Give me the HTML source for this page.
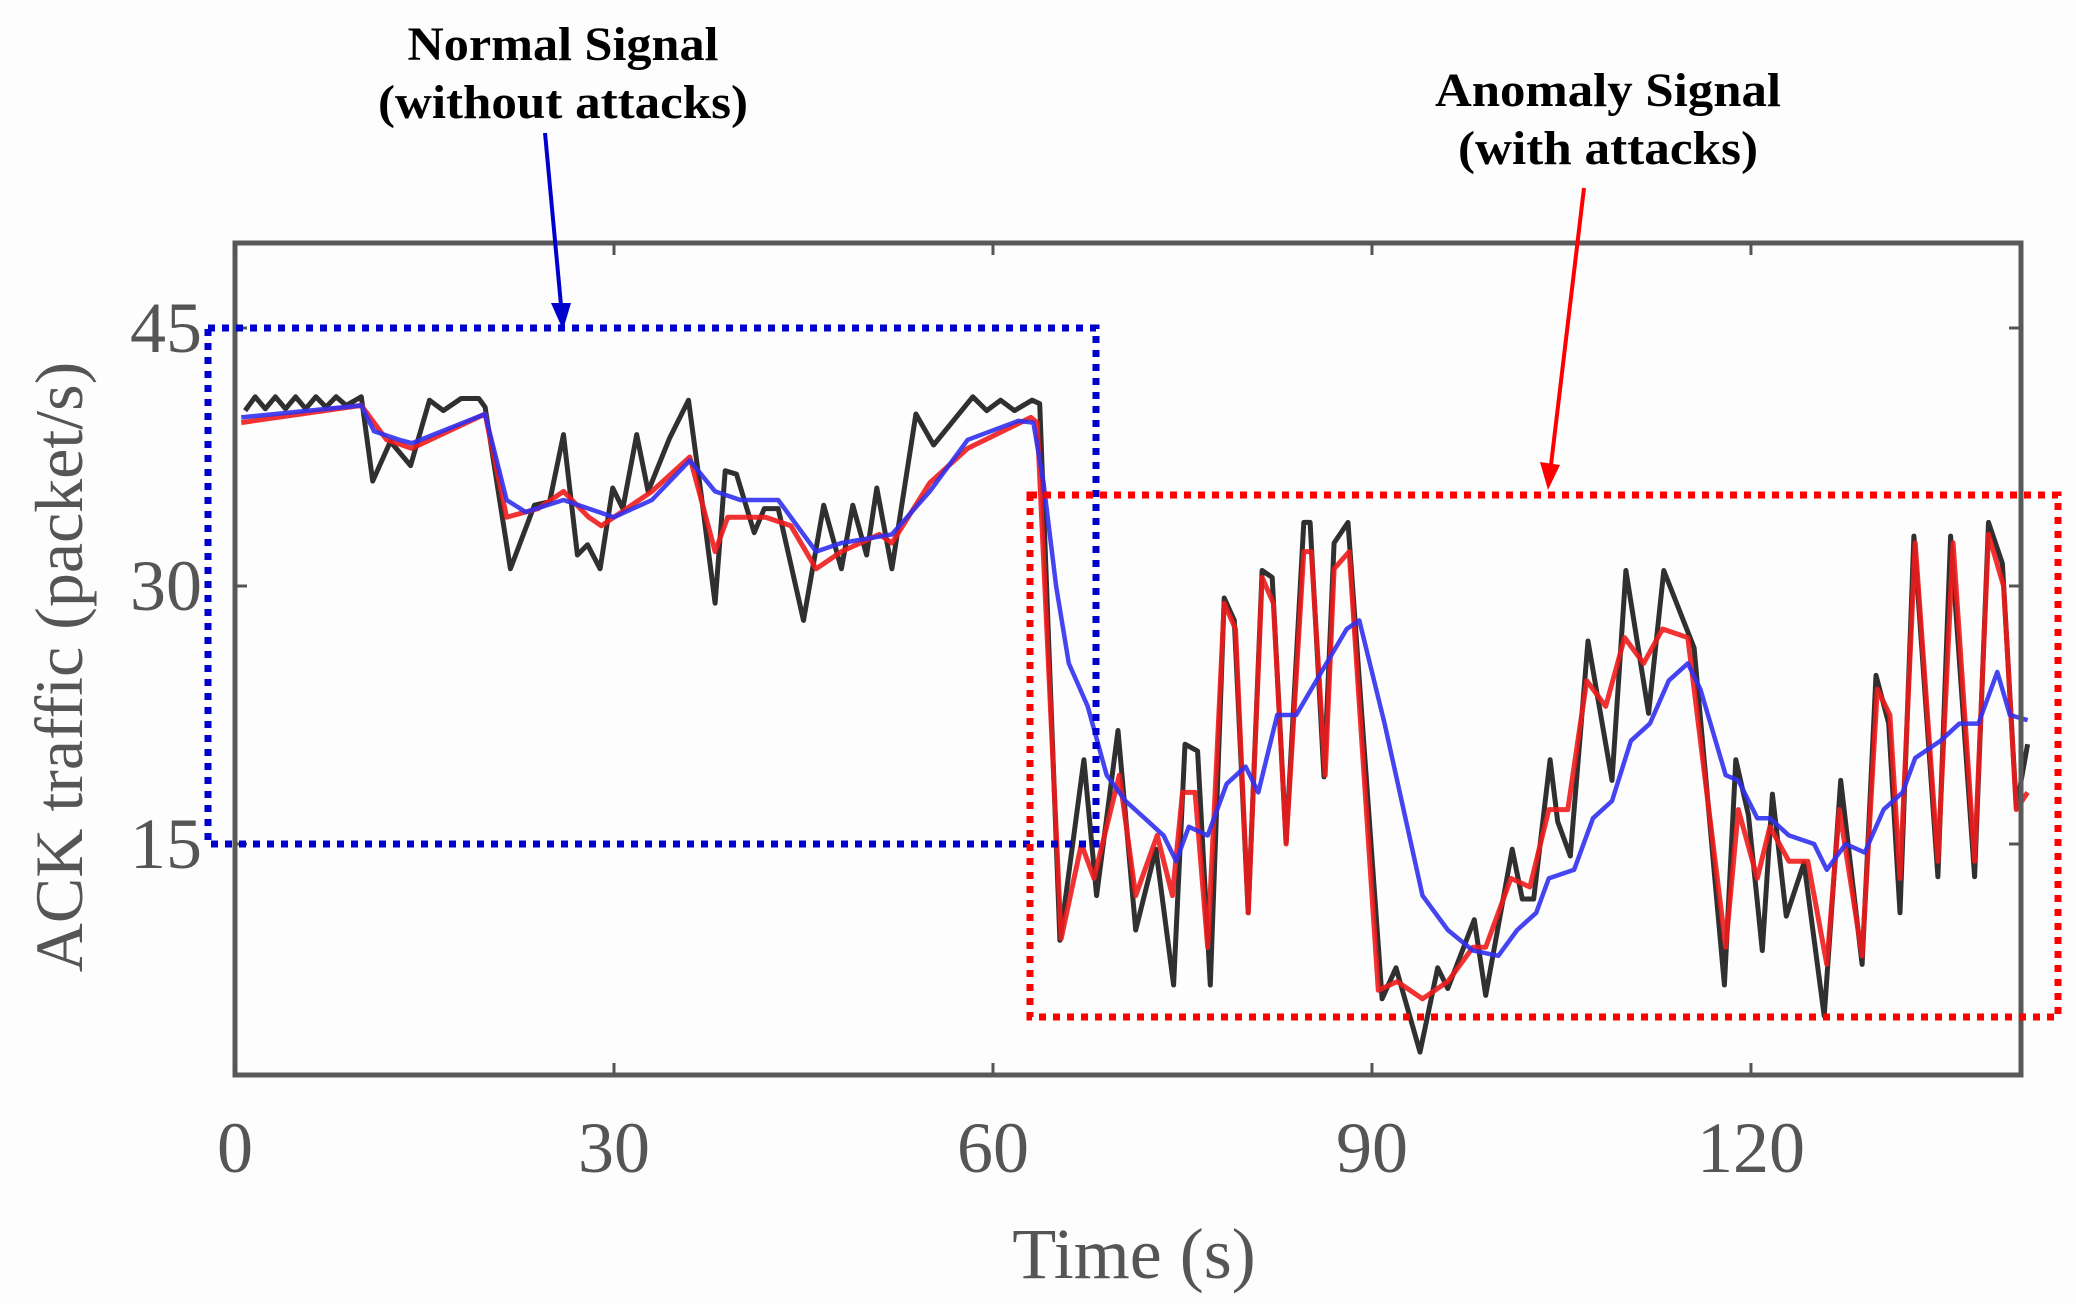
<!DOCTYPE html>
<html><head><meta charset="utf-8"><style>
html,body{margin:0;padding:0;background:#fff;}
svg{display:block;}
text{font-family:"Liberation Serif",serif;}
</style></head><body>
<svg id="chart" width="2076" height="1304" viewBox="0 0 2076 1304" xmlns="http://www.w3.org/2000/svg">
<rect x="0" y="0" width="2076" height="1304" fill="#fdfdfd"/>
<g id="marks"></g>
<rect x="235" y="243" width="1786" height="832" fill="none" stroke="#595959" stroke-width="5"/>
<g id="ticks"></g>
<text x="0" y="0" transform="translate(82,667) rotate(-90)" text-anchor="middle" font-size="68" fill="#555">ACK traffic (packet/s)</text>
<text x="1134" y="1278" text-anchor="middle" font-size="72" fill="#555">Time (s)</text>
<text x="563" y="60" text-anchor="middle" font-size="48" font-weight="bold" textLength="311" lengthAdjust="spacingAndGlyphs">Normal Signal</text>
<text x="563" y="118" text-anchor="middle" font-size="48" font-weight="bold" textLength="370" lengthAdjust="spacingAndGlyphs">(without attacks)</text>
<text x="1608" y="106" text-anchor="middle" font-size="48" font-weight="bold" textLength="346" lengthAdjust="spacingAndGlyphs">Anomaly Signal</text>
<text x="1608" y="164" text-anchor="middle" font-size="48" font-weight="bold" textLength="300" lengthAdjust="spacingAndGlyphs">(with attacks)</text>
<line x1="545" y1="133" x2="561" y2="305" stroke="#0000cc" stroke-width="4"/>
<polygon points="551,303 571,303 563,330" fill="#0000cc"/>
<line x1="1584" y1="188" x2="1551" y2="465" stroke="#ff0000" stroke-width="4"/>
<polygon points="1540,462 1560,465 1548,490" fill="#ff0000"/>
<rect x="208" y="328" width="888" height="516" fill="none" stroke="#0000cc" stroke-width="7" stroke-dasharray="7 7"/>
<rect x="1030" y="495" width="1028" height="522" fill="none" stroke="#ff0000" stroke-width="7" stroke-dasharray="7 7"/>
</svg>
<script>
const blackT=[0.8,1.6,2.4,3.2,4,4.8,5.6,6.4,7.2,8,8.8,10,10.9,12.3,13.9,15.4,16.5,17.9,19.3,19.8,21.8,23.7,24.9,26,27.1,27.9,28.9,29.9,30.7,31.8,32.7,34.4,35.9,36.9,38,38.8,39.7,41.1,41.9,43,45,46.6,48,48.9,50,50.8,52,53.9,55.3,58.4,59.5,60.6,61.7,63.1,63.7,65.3,67.2,68.2,69.9,71.3,72.9,74.3,75.2,76.2,77.2,78.3,79.1,80.2,81.3,82.1,83.2,84.6,85.1,86.2,87,88.1,90.8,91.9,93.8,95.2,96,98.1,99,101.1,101.9,102.8,104.1,104.7,105.7,107.1,109,110.1,111.9,113.1,115.5,117.9,118.8,119.8,120.9,121.7,122.8,124.2,125.8,127.1,128.8,129.9,130.9,131.8,132.9,134.8,135.8,137.7,138.8,139.9,141,141.9];
const blackV=[40.2,41,40.3,41,40.3,41,40.3,41,40.4,41,40.5,41,36.1,38.4,37,40.8,40.2,40.9,40.9,40.4,31,34.7,34.9,38.8,31.8,32.4,31,35.7,34.5,38.8,35.5,38.6,40.8,35.3,29,36.7,36.5,33.1,34.5,34.5,28,34.7,31,34.7,31.8,35.7,31,40,38.2,41,40.2,40.8,40.2,40.8,40.6,9.4,19.9,12,21.6,10,14.7,6.8,20.8,20.4,6.8,29.3,28,11,30.9,30.5,15.1,33.7,33.7,18.9,32.5,33.7,6,7.8,2.9,7.8,6.6,10.6,6.2,14.7,11.8,11.8,19.9,16.3,14.3,26.8,18.7,30.9,22.6,30.9,26.4,6.8,19.9,16.7,8.8,17.9,10.8,13.9,5,18.7,8,24.8,22,11,32.9,13.1,32.9,13.1,33.7,31.3,17.1,20.8];
const redT=[0.5,10,12,14,19.8,21.5,24,26,28,29,31,33,36,38,39,42,44,46,48,51,52,55,58,63,63.5,65.4,67,68,70,71.3,73,74.2,75,76,77,78.3,79.2,80.2,81.3,82.2,83.2,84.6,85.2,86.3,87,88.2,90.5,92,94,96,98,99,101,102.5,104,105.5,107,108.5,110,111.5,113,115,118,119,120.5,121.5,123,124.5,126,127,128.8,130,131,131.8,133,134.8,136,137.7,138.8,140,141,141.9];
const redV=[39.5,40.5,38.5,38,40,34,34.5,35.5,34,33.5,34.5,35.5,37.5,32,34,34,33.5,31,32,33,32.5,36,38,39.8,39.5,9.5,15,13,19,12,15.5,12,18,18,9,29,27.5,11,30.5,29,15,32,32,19,31,32,6.5,7,6,7,9,9,13,12.5,17,17,24.5,23,27,25.5,27.5,27,9,17,13,16,14,14,8,17,8.5,24,22.5,13,32.5,14,32.5,14,33,30,17,18];
const blueT=[0.5,10,11,13,14,19.8,21.5,23,26,28,30,33,36,38,40,43,46,48,52,55,58,62,63.2,64,65,66,67.5,69,70.5,72,73.5,74.5,75.5,77,78.5,80,81,82.5,84,86,88,89,91,94,96,98,100,101.5,103,104,106,107.5,109,110.5,112,113.5,115,116,118,119,120.5,121.5,123,125,126,127.5,129,130.5,132,133,135,136.5,138,139.5,140.5,141.9];
const blueV=[39.8,40.5,39,38.5,38.3,40,35,34.3,35,34.5,34,35,37.3,35.5,35,35,32,32.5,33,35.5,38.5,39.6,39.5,36,30,25.5,23,19,17.5,16.5,15.5,14,16,15.5,18.5,19.5,18,22.5,22.5,25,27.5,28,22,12,10,8.8,8.5,10,11,13,13.5,16.5,17.5,21,22,24.5,25.5,24,19,18.7,16.5,16.5,15.5,15,13.5,15,14.5,17,18,20,21,22,22,25,22.5,22.2];
const xTicks=[0,30,60,90,120];
const yTicks=[15,30,45];

const NS="http://www.w3.org/2000/svg";
function xs(t){return 235+t*12.633;}
function ys(v){return 328+(45-v)*17.2;}
const marks=document.getElementById('marks');
function series(T,V,color,w,name){
  const p=document.createElementNS(NS,'polyline');
  p.setAttribute('points',T.map((t,i)=>xs(t).toFixed(1)+','+ys(V[i]).toFixed(1)).join(' '));
  p.setAttribute('fill','none');p.setAttribute('stroke',color);p.setAttribute('stroke-width',w);
  p.setAttribute('stroke-linejoin','round');p.setAttribute('opacity','0.9');
  
  
  marks.appendChild(p);
}
series(blackT,blackV,'#1a1a1a','5','black-series-line');
series(redT,redV,'#ee1c1c','5','red-series-line');
series(blueT,blueV,'#3030ee','4.5','blue-series-line');

const tg=document.getElementById('ticks');
xTicks.forEach(t=>{
  [[1075,1063],[243,255]].forEach(([a,b])=>{
    const l=document.createElementNS(NS,'line');
    l.setAttribute('x1',xs(t));l.setAttribute('x2',xs(t));l.setAttribute('y1',a);l.setAttribute('y2',b);
    l.setAttribute('stroke','#555');l.setAttribute('stroke-width','3');
    
    
    tg.appendChild(l);
  });
  const tx=document.createElementNS(NS,'text');
  tx.setAttribute('x',xs(t));tx.setAttribute('y',1172);tx.setAttribute('text-anchor','middle');
  tx.setAttribute('font-size','72');tx.setAttribute('fill','#555');tx.textContent=t;
  
  
  tg.appendChild(tx);
});
yTicks.forEach(v=>{
  [[235,247],[2021,2009]].forEach(([a,b])=>{
    const l=document.createElementNS(NS,'line');
    l.setAttribute('x1',a);l.setAttribute('x2',b);l.setAttribute('y1',ys(v));l.setAttribute('y2',ys(v));
    l.setAttribute('stroke','#555');l.setAttribute('stroke-width','3');
    
    
    tg.appendChild(l);
  });
  const tx=document.createElementNS(NS,'text');
  tx.setAttribute('x',202);tx.setAttribute('y',ys(v)+24);tx.setAttribute('text-anchor','end');
  tx.setAttribute('font-size','72');tx.setAttribute('fill','#555');tx.textContent=v;
  
  
  tg.appendChild(tx);
});
</script>
</body></html>
